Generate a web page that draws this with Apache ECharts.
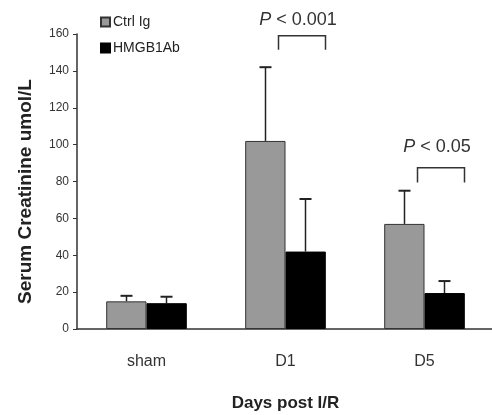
<!DOCTYPE html>
<html>
<head>
<meta charset="utf-8">
<script src="https://cdn.jsdelivr.net/npm/echarts@6/dist/echarts.min.js"></script>
<style>
  html, body { margin: 0; padding: 0; background: #fff; }
  #main { width: 492px; height: 415px; }
</style>
</head>
<body>
<div id="main"></div>
<script>
// 数据
let categories = ['sham', 'D1', 'D5']
let ctrlMean = [15, 102, 57]
let ctrlErr = [18, 142, 75]      // 误差线顶端
let abMean = [14, 42, 19.5]
let abErr = [17.5, 70.5, 26]
// 显著性标注: 类别序号, 括号顶/底, 文字高度(数值), 文字
let sigCat = [1, 2]
let sigTop = [159, 87.5]
let sigBottom = [151.5, 79.5]
let sigLabelY = [167.5, 98.5]
let sigText = ['P < 0.001', 'P < 0.05']

let ele = echarts.init(document.getElementById('main'))

// 误差线 (只画上半部分)
function errorRender(offset) {
    return function (params, api) {
        let base = api.coord([api.value(0), api.value(1)])
        let top = api.coord([api.value(0), api.value(2)])
        let x = base[0] + offset
        return {
            type: 'group',
            children: [
                { type: 'line', shape: { x1: x, y1: base[1], x2: x, y2: top[1] }, style: { stroke: '#222', lineWidth: 1.5 } },
                { type: 'line', shape: { x1: x - 6, y1: top[1], x2: x + 6, y2: top[1] }, style: { stroke: '#222', lineWidth: 2 } }
            ]
        }
    }
}

// 括号 + P 值
function sigRender(params, api) {
    let c = api.value(0)
    let p1 = api.coord([c, api.value(1)])
    let p2 = api.coord([c, api.value(2)])
    let p3 = api.coord([c, api.value(3)])
    let xl = p1[0] - 7
    let xr = p1[0] + 40
    let t = sigText[params.dataIndex]
    return {
        type: 'group',
        children: [
            { type: 'polyline', shape: { points: [[xl, p2[1]], [xl, p1[1]], [xr, p1[1]], [xr, p2[1]]] }, style: { stroke: '#333', lineWidth: 1.5, fill: null } },
            {
                type: 'text', x: (xl + xr) / 2 - 4, y: p3[1],
                style: {
                    text: '{i|P} ' + t.slice(2),
                    rich: { i: { fontStyle: 'italic', fontSize: 18, fontFamily: 'Liberation Sans', fill: '#333' } },
                    fontSize: 18, fontFamily: 'Liberation Sans', fill: '#333',
                    align: 'center', verticalAlign: 'middle'
                }
            }
        ]
    }
}

const option = {
    animation: false,
    textStyle: { fontFamily: 'Liberation Sans' },
    legend: {
        orient: 'vertical',
        left: 95,
        top: 10,
        icon: 'rect',
        itemWidth: 9,
        itemHeight: 9,
        itemGap: 12,
        data: ['Ctrl Ig', 'HMGB1Ab'],
        textStyle: { fontSize: 14, color: '#222', padding: [0, 0, 0, -2] }
    },
    grid: { left: 77, top: 34, right: -2, bottom: 86, outerBoundsMode: 'none' },
    xAxis: {
        type: 'category',
        data: categories,
        name: 'Days post I/R',
        nameLocation: 'middle',
        nameGap: 66,
        nameTextStyle: { fontSize: 17, fontWeight: 'bold', color: '#222' },
        axisLine: { lineStyle: { color: '#333', width: 1.5 } },
        axisTick: { show: false },
        axisLabel: { fontSize: 16, color: '#333', margin: 25 }
    },
    yAxis: {
        type: 'value',
        min: 0,
        max: 160,
        interval: 20,
        name: 'Serum Creatinine umol/L',
        nameLocation: 'middle',
        nameGap: 42,
        nameTextStyle: { fontSize: 19, fontWeight: 'bold', color: '#222', padding: [0, 20, 0, 0] },
        axisLine: { show: true, lineStyle: { color: '#333', width: 1.5 } },
        axisTick: { show: true, length: 4, lineStyle: { color: '#333' } },
        axisLabel: { fontSize: 12, color: '#333', margin: 8 },
        splitLine: { show: false }
    },
    series: [
        {
            name: 'Ctrl Ig',
            type: 'bar',
            data: ctrlMean,
            barGap: '0%',
            barCategoryGap: '42%',
            itemStyle: { color: '#999', borderColor: '#333', borderWidth: 1 }
        },
        {
            name: 'HMGB1Ab',
            type: 'bar',
            data: abMean,
            itemStyle: { color: '#000', borderColor: '#000', borderWidth: 1 }
        },
        {
            type: 'custom',
            renderItem: errorRender(-20),
            data: categories.map((c, i) => [i, ctrlMean[i], ctrlErr[i]]),
            z: 1
        },
        {
            type: 'custom',
            renderItem: errorRender(20),
            data: categories.map((c, i) => [i, abMean[i], abErr[i]]),
            z: 1
        },
        {
            type: 'custom',
            renderItem: sigRender,
            data: sigCat.map((c, i) => [c, sigTop[i], sigBottom[i], sigLabelY[i]]),
            z: 3
        }
    ]
}
ele.setOption(option)
</script>
</body>
</html>
